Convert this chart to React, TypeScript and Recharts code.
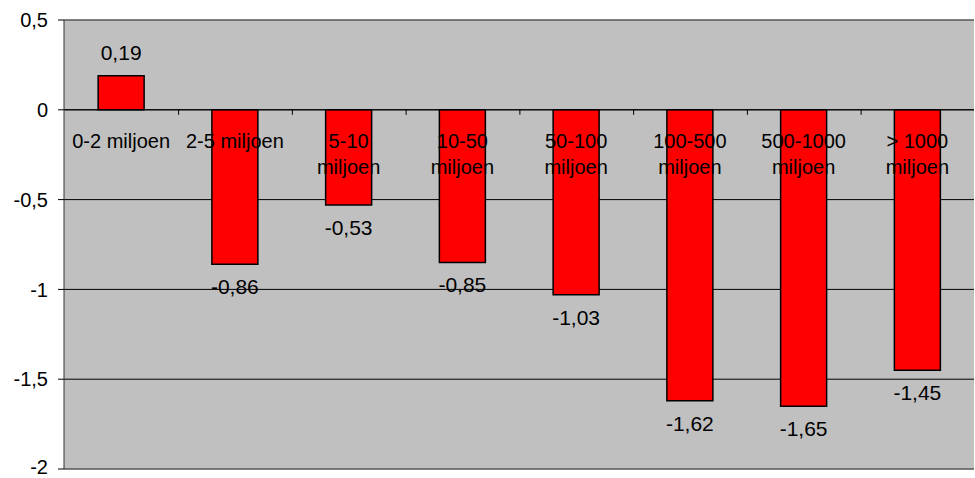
import { Bar, BarChart, CartesianGrid, LabelList, ReferenceLine, XAxis, YAxis } from "recharts";

const categories = [
  "0-2 miljoen",
  "2-5 miljoen",
  "5-10\nmiljoen",
  "10-50\nmiljoen",
  "50-100\nmiljoen",
  "100-500\nmiljoen",
  "500-1000\nmiljoen",
  "> 1000\nmiljoen",
];
const values = [0.19, -0.86, -0.53, -0.85, -1.03, -1.62, -1.65, -1.45];
const yTicks = [0.5, 0, -0.5, -1, -1.5, -2];

const data = categories.map((name, i) => ({ name, value: values[i] }));

const FONT = "'Liberation Sans', Arial, sans-serif";
const fmt = (v: number) => String(v).replace(".", ",");

// category names sit just under the zero line, like Excel draws them
function CategoryLabel(props: any) {
  const { x, y, width, height, value, index } = props;
  const v = values[index];
  const top = Math.min(y, y + height);
  const bottom = Math.max(y, y + height);
  const zero = v < 0 ? top : bottom;
  const cx = x + width / 2;
  const band = width / 0.4;
  const lines = String(value).split("\n");
  return (
    <g>
      {index < categories.length - 1 && (
        <line x1={cx + band / 2} x2={cx + band / 2} y1={zero} y2={zero + 5} stroke="#000" />
      )}
      {lines.map((line, i) => (
        <text
          key={i}
          x={cx}
          y={zero + 38 + i * 26}
          textAnchor="middle"
          fontSize={20}
          fontFamily={FONT}
          fill="#000"
        >
          {line}
        </text>
      ))}
    </g>
  );
}

function ValueLabel(props: any) {
  const { x, y, width, height, value } = props;
  const top = Math.min(y, y + height);
  const bottom = Math.max(y, y + height);
  const cx = x + width / 2;
  const ty = value >= 0 ? top - 16 : bottom + 30;
  return (
    <text x={cx} y={ty} textAnchor="middle" fontSize={21} fontFamily={FONT} fill="#000">
      {fmt(value)}
    </text>
  );
}

export default function App() {
  return (
    <div style={{ position: "absolute", left: 0, top: 0, background: "#fff" }}>
      <BarChart
        width={975}
        height={478}
        data={data}
        margin={{ top: 20, right: 1, bottom: 9, left: 0 }}
        barCategoryGap="30%"
      >
        <CartesianGrid fill="#C0C0C0" stroke="#000" vertical={false} />
        <XAxis dataKey="name" hide />
        <YAxis
          domain={[-2, 0.5]}
          ticks={yTicks}
          width={64}
          tickFormatter={fmt}
          tickSize={6}
          tickMargin={10}
          axisLine={{ stroke: "#333" }}
          tickLine={{ stroke: "#000" }}
          tick={{ fontSize: 20, fontFamily: FONT, fill: "#000" }}
        />
        <ReferenceLine y={yTicks[0]} stroke="#808080" />
        <ReferenceLine y={yTicks[yTicks.length - 1]} stroke="#808080" />
        <ReferenceLine y={0} stroke="#000" />
        <Bar dataKey="value" fill="#FF0000" stroke="#000" strokeWidth={1.5} isAnimationActive={false}>
          <LabelList dataKey="name" content={CategoryLabel} />
          <LabelList dataKey="value" content={ValueLabel} />
        </Bar>
      </BarChart>
    </div>
  );
}
